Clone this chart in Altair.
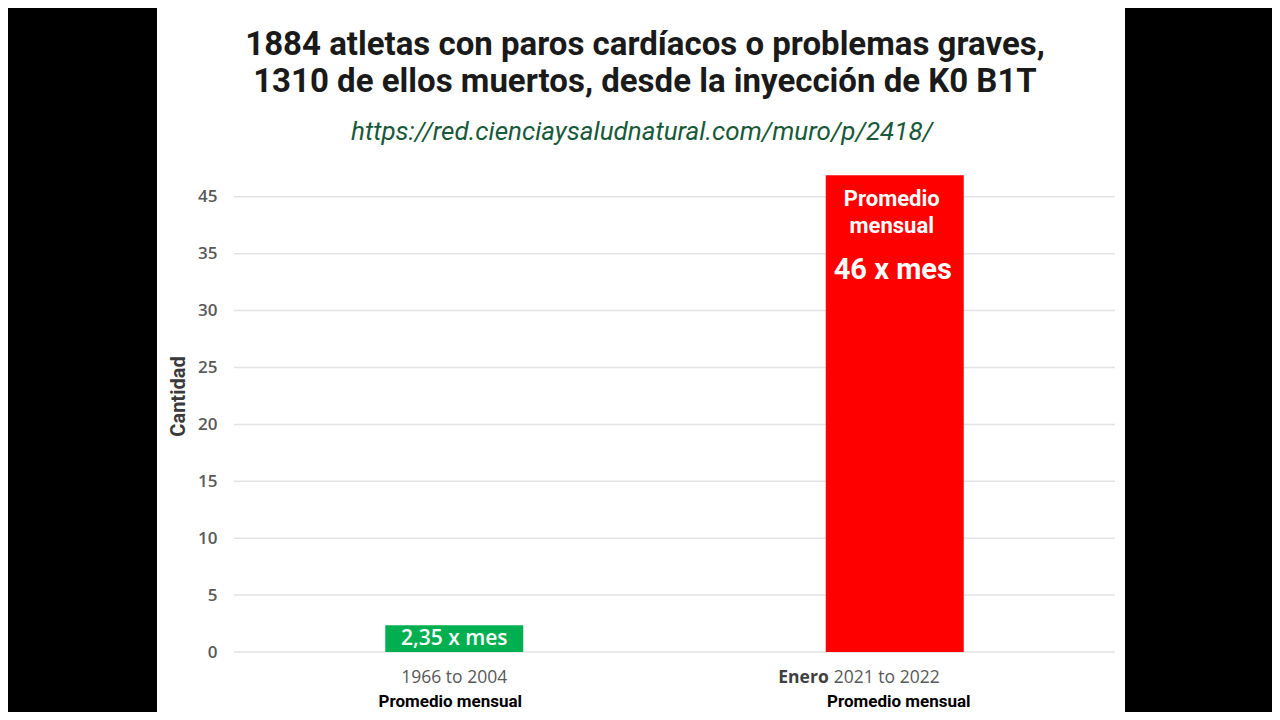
import altair as alt
import pandas as pd

# ---- data ----
categories = ["1966 to 2004", "Enero 2021 to 2022"]
values = [2.35, 41.9]
bar_colors = ["#00b050", "#ff0000"]
period_labels = ["1966 to 2004", "2021 to 2022"]
period_prefix = ["", "Enero"]
sub_label = "Promedio mensual"
y_ticks = [0, 5, 10, 15, 20, 25, 30, 35, 40]
y_tick_text = ["0", "5", "10", "15", "20", "25", "30", "35", "45"]
title_lines = ["1884 atletas con paros cardíacos o problemas graves,",
               "1310 de ellos muertos, desde la inyección de K0 B1T"]
url_text = "https://red.cienciaysaludnatural.com/muro/p/2418/"
green_label = "2,35 x mes"
red_label_lines = ["Promedio", "mensual"]
red_value_label = "46 x mes"
y_title = "Cantidad"

W, H = 881, 478

df = pd.DataFrame({"cat": categories, "val": values, "color": bar_colors})
grid_df = pd.DataFrame({"v": y_ticks})

label_expr = "datum.label"
for t, s in zip(y_ticks, y_tick_text):
    if str(t) != s:
        label_expr = f"datum.value == {t} ? '{s}' : ({label_expr})"

x_enc = alt.X("cat:N", sort=categories, axis=None,
              scale=alt.Scale(paddingInner=0, paddingOuter=0))
y_scale = alt.Scale(domain=[0, 42], nice=False, zero=True)

panel = alt.Chart(alt.Data(values=[{"a": 1}])).mark_rect(color="white").encode(
    x=alt.value(-77), x2=alt.value(891), y=alt.value(-200), y2=alt.value(600)
)

grid = alt.Chart(grid_df).mark_rule(color="#e3e3e3", strokeWidth=1.5).encode(
    y=alt.Y("v:Q", scale=y_scale,
            axis=alt.Axis(values=y_ticks, labelExpr=label_expr, grid=False,
                          domain=False, ticks=False, labelPadding=17,
                          labelFont="Open Sans", labelFontSize=17,
                          labelFontWeight=600, labelColor="#595959",
                          title=y_title, titleFont="Roboto", titleFontSize=20,
                          titleFontWeight="bold", titleColor="#3a3a3a",
                          titleX=-56, titleY=222, titleAngle=270,
                          titleAlign="center", titleBaseline="middle",
                          zindex=1)),
    x=alt.value(0), x2=alt.value(W)
)

bars = alt.Chart(df).mark_bar(size=138).encode(
    x=x_enc,
    y=alt.Y("val:Q", scale=y_scale),
    color=alt.Color("color:N", scale=None)
)

green_df = pd.DataFrame({"cat": [categories[0]], "t": [green_label]})
green_txt = alt.Chart(green_df).mark_text(
    font="Open Sans", fontSize=21, fontWeight=600, color="white", baseline="middle"
).encode(x=x_enc, y=alt.value(465), text="t:N")

red_df = pd.DataFrame({"cat": [categories[1]] * 2, "t": red_label_lines,
                       "yy": [25, 52]})
red_txt = alt.Chart(red_df).mark_text(
    font="Roboto", fontSize=22, fontWeight="bold", color="white", baseline="middle", dx=-3
).encode(x=x_enc, y=alt.Y("yy:Q", scale=None), text="t:N")

red_val_df = pd.DataFrame({"cat": [categories[1]], "t": [red_value_label]})
red_val = alt.Chart(red_val_df).mark_text(
    font="Roboto", fontSize=29, fontWeight="bold", color="white", baseline="middle", dx=-2
).encode(x=x_enc, y=alt.value(96), text="t:N")

per0 = alt.Chart(pd.DataFrame({"cat": [categories[0]], "t": [period_labels[0]]})).mark_text(
    font="Open Sans", fontSize=17.5, color="#595959", baseline="middle"
).encode(x=x_enc, y=alt.value(504), text="t:N")

per1 = alt.Chart(pd.DataFrame({"cat": [categories[1]], "t": [period_labels[1]]})).mark_text(
    font="Open Sans", fontSize=17.5, color="#595959", baseline="middle", align="left", dx=-61
).encode(x=x_enc, y=alt.value(504), text="t:N")

pre1 = alt.Chart(pd.DataFrame({"cat": [categories[1]], "t": [period_prefix[1]]})).mark_text(
    font="Open Sans", fontSize=17.5, fontWeight="bold", color="#404040", baseline="middle",
    align="right", dx=-66
).encode(x=x_enc, y=alt.value(504), text="t:N")

sub0 = alt.Chart(pd.DataFrame({"cat": [categories[0]], "t": [sub_label]})).mark_text(
    font="Roboto", fontSize=17, fontWeight="bold", color="#000000", baseline="middle", dx=-4
).encode(x=x_enc, y=alt.value(528), text="t:N")

sub1 = alt.Chart(pd.DataFrame({"cat": [categories[1]], "t": [sub_label]})).mark_text(
    font="Roboto", fontSize=17, fontWeight="bold", color="#000000", baseline="middle", dx=4
).encode(x=x_enc, y=alt.value(528), text="t:N")

title_df = pd.DataFrame({"t": title_lines, "yy": [-129, -92]})
title = alt.Chart(title_df).mark_text(
    font="Roboto", fontSize=33, fontWeight="bold", color="#1a1a1a",
    baseline="middle", align="center"
).encode(x=alt.value(411), y=alt.Y("yy:Q", scale=None), text="t:N")

url = alt.Chart(pd.DataFrame({"t": [url_text]})).mark_text(
    font="Roboto", fontSize=26, fontStyle="italic", color="#17593a",
    baseline="middle", align="center"
).encode(x=alt.value(408), y=alt.value(-42), text="t:N")

chart = alt.layer(panel, grid, bars, green_txt, red_txt, red_val, per0, per1, pre1,
                  sub0, sub1, title, url).properties(
    width=W, height=H, background="black",
    padding={"left": 226, "top": 166, "right": 157, "bottom": 60},
    autosize=alt.AutoSizeParams(type="none")
).configure_view(stroke=None)

chart.save("out.html", embed_options={"renderer": "svg", "actions": False})
